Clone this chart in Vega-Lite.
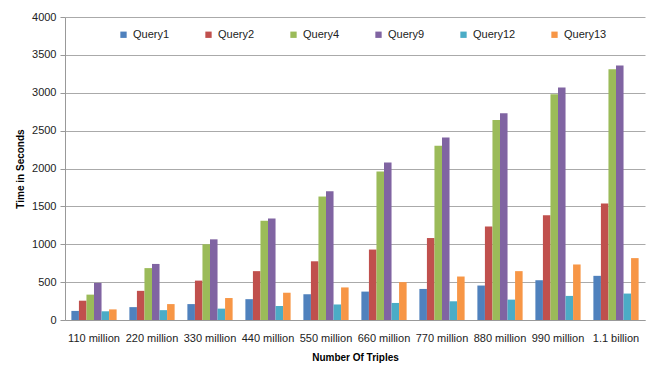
{
  "$schema": "https://vega.github.io/schema/vega-lite/v6.json",
  "width": 580,
  "height": 303,
  "autosize": {"type": "none"},
  "padding": {"left": 65, "top": 17, "right": 10, "bottom": 48},
  "background": "white",
  "config": {
    "view": {"stroke": null},
    "font": "Liberation Sans"
  },
  "data": {
    "values": [
      {"size": "110 million", "query": "Query1", "time": 120},
      {"size": "110 million", "query": "Query2", "time": 255},
      {"size": "110 million", "query": "Query4", "time": 335},
      {"size": "110 million", "query": "Query9", "time": 490},
      {"size": "110 million", "query": "Query12", "time": 115},
      {"size": "110 million", "query": "Query13", "time": 140},
      {"size": "220 million", "query": "Query1", "time": 170},
      {"size": "220 million", "query": "Query2", "time": 385},
      {"size": "220 million", "query": "Query4", "time": 685},
      {"size": "220 million", "query": "Query9", "time": 740},
      {"size": "220 million", "query": "Query12", "time": 130},
      {"size": "220 million", "query": "Query13", "time": 210},
      {"size": "330 million", "query": "Query1", "time": 210},
      {"size": "330 million", "query": "Query2", "time": 520},
      {"size": "330 million", "query": "Query4", "time": 1000},
      {"size": "330 million", "query": "Query9", "time": 1065},
      {"size": "330 million", "query": "Query12", "time": 150},
      {"size": "330 million", "query": "Query13", "time": 290},
      {"size": "440 million", "query": "Query1", "time": 275},
      {"size": "440 million", "query": "Query2", "time": 645},
      {"size": "440 million", "query": "Query4", "time": 1310},
      {"size": "440 million", "query": "Query9", "time": 1340},
      {"size": "440 million", "query": "Query12", "time": 185},
      {"size": "440 million", "query": "Query13", "time": 360},
      {"size": "550 million", "query": "Query1", "time": 340},
      {"size": "550 million", "query": "Query2", "time": 775},
      {"size": "550 million", "query": "Query4", "time": 1630},
      {"size": "550 million", "query": "Query9", "time": 1700},
      {"size": "550 million", "query": "Query12", "time": 205},
      {"size": "550 million", "query": "Query13", "time": 430},
      {"size": "660 million", "query": "Query1", "time": 375},
      {"size": "660 million", "query": "Query2", "time": 930},
      {"size": "660 million", "query": "Query4", "time": 1960},
      {"size": "660 million", "query": "Query9", "time": 2080},
      {"size": "660 million", "query": "Query12", "time": 225},
      {"size": "660 million", "query": "Query13", "time": 500},
      {"size": "770 million", "query": "Query1", "time": 410},
      {"size": "770 million", "query": "Query2", "time": 1082},
      {"size": "770 million", "query": "Query4", "time": 2300},
      {"size": "770 million", "query": "Query9", "time": 2410},
      {"size": "770 million", "query": "Query12", "time": 247},
      {"size": "770 million", "query": "Query13", "time": 574},
      {"size": "880 million", "query": "Query1", "time": 455},
      {"size": "880 million", "query": "Query2", "time": 1233},
      {"size": "880 million", "query": "Query4", "time": 2640},
      {"size": "880 million", "query": "Query9", "time": 2730},
      {"size": "880 million", "query": "Query12", "time": 269},
      {"size": "880 million", "query": "Query13", "time": 645},
      {"size": "990 million", "query": "Query1", "time": 525},
      {"size": "990 million", "query": "Query2", "time": 1383},
      {"size": "990 million", "query": "Query4", "time": 2980},
      {"size": "990 million", "query": "Query9", "time": 3070},
      {"size": "990 million", "query": "Query12", "time": 318},
      {"size": "990 million", "query": "Query13", "time": 733},
      {"size": "1.1 billion", "query": "Query1", "time": 583},
      {"size": "1.1 billion", "query": "Query2", "time": 1538},
      {"size": "1.1 billion", "query": "Query4", "time": 3310},
      {"size": "1.1 billion", "query": "Query9", "time": 3360},
      {"size": "1.1 billion", "query": "Query12", "time": 349},
      {"size": "1.1 billion", "query": "Query13", "time": 817}
    ]
  },
  "mark": {"type": "bar"},
  "encoding": {
    "x": {
      "field": "size",
      "type": "nominal",
      "sort": null,
      "scale": {"paddingInner": 0.22, "paddingOuter": 0.11},
      "axis": {
        "title": "Number Of Triples",
        "titleFontSize": 10,
        "titleFontWeight": "bold",
        "titleColor": "black",
        "titlePadding": 9,
        "labelAngle": 0,
        "labelFontSize": 11,
        "labelColor": "#222",
        "labelPadding": 12,
        "ticks": false,
        "domainColor": "#999",
        "labelLimit": 80
      }
    },
    "xOffset": {
      "field": "query",
      "type": "nominal",
      "sort": ["Query1", "Query2", "Query4", "Query9", "Query12", "Query13"],
      "scale": {"paddingInner": 0, "paddingOuter": 0}
    },
    "y": {
      "field": "time",
      "type": "quantitative",
      "scale": {"domain": [0, 4000]},
      "axis": {
        "title": "Time in Seconds",
        "titleFontSize": 10,
        "titleFontWeight": "bold",
        "titleColor": "black",
        "titlePadding": 6,
        "format": "d",
        "values": [0, 500, 1000, 1500, 2000, 2500, 3000, 3500, 4000],
        "labelFontSize": 11,
        "labelColor": "#222",
        "tickSize": 5,
        "tickColor": "#999",
        "domainColor": "#999",
        "gridColor": "#aaa",
        "labelPadding": 4
      }
    },
    "color": {
      "field": "query",
      "type": "nominal",
      "sort": ["Query1", "Query2", "Query4", "Query9", "Query12", "Query13"],
      "scale": {
        "domain": ["Query1", "Query2", "Query4", "Query9", "Query12", "Query13"],
        "range": ["#4F81BD", "#C0504D", "#9BBB59", "#8064A2", "#4BACC6", "#F79646"]
      },
      "legend": {
        "title": null,
        "orient": "none",
        "legendX": 53,
        "legendY": 12,
        "direction": "horizontal",
        "columns": 6,
        "symbolType": "square",
        "symbolSize": 40,
        "labelFontSize": 11,
        "labelColor": "#222",
        "columnPadding": 33
      }
    }
  }
}
